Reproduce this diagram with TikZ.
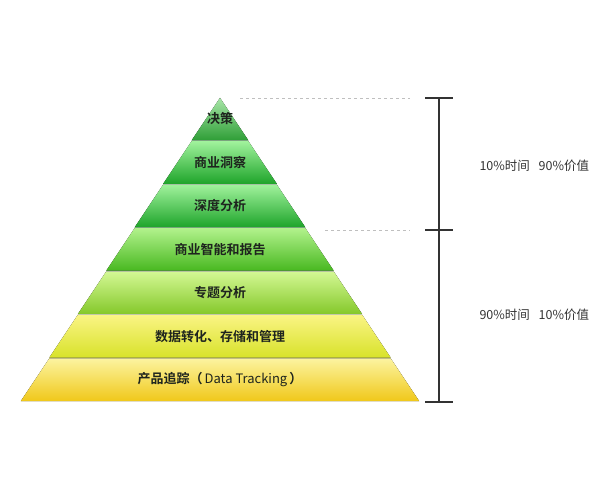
\documentclass[tikz,border=0pt]{standalone}
\usepackage{fontspec}
\newfontfamily\cjk[BoldFont={Noto Sans CJK SC Bold}]{Noto Sans CJK SC}
\definecolor{gEinsO}{HTML}{A8E6A8}
\definecolor{gEinsU}{HTML}{2E9E36}
\definecolor{gZweiO}{HTML}{A0F29C}
\definecolor{gZweiU}{HTML}{1EA42A}
\definecolor{gVierO}{HTML}{B2F28C}
\definecolor{gVierU}{HTML}{48B820}
\definecolor{gFuenfO}{HTML}{D4F894}
\definecolor{gFuenfU}{HTML}{84C82A}
\definecolor{gSechsO}{HTML}{FAF484}
\definecolor{gSechsU}{HTML}{D8E22A}
\definecolor{gSiebenO}{HTML}{FCF4A0}
\definecolor{gSiebenU}{HTML}{F0C81A}
\definecolor{textdunkel}{HTML}{1E241E}
\definecolor{linie}{HTML}{333333}
\tikzset{
	beschriftung/.style={font=\cjk\bfseries\fontsize{13}{13}\selectfont, text=textdunkel},
	wert/.style={font=\cjk\fontsize{12.5}{12.5}\selectfont, text=linie, anchor=west},
	klammer/.style={draw=linie, line width=1.1pt},
	hilfslinie/.style={draw=gray!50, dashed, line width=0.8pt}
}
\begin{document}
\begin{tikzpicture}[x=1pt,y=-1pt]
		\useasboundingbox (0,0) rectangle (600,480);
		% Pyramide
		\foreach \i/\oben/\unten/\name/\txt in {
			0/gEinsO/gEinsU/ebeneA/决策,
			1/gZweiO/gZweiU/ebeneB/商业洞察,
			2/gZweiO/gZweiU/ebeneC/深度分析,
			3/gVierO/gVierU/ebeneD/商业智能和报告,
			4/gFuenfO/gFuenfU/ebeneE/专题分析,
			5/gSechsO/gSechsU/ebeneF/数据转化、存储和管理,
			6/gSiebenO/gSiebenU/ebeneG/产品追踪（\,{\mdseries Data Tracking}\,）}{
			\pgfmathsetmacro{\ya}{97+43.43*\i}
			\pgfmathsetmacro{\yb}{\ya+43.43}
			\pgfmathsetmacro{\wa}{0.655*(\ya-97)}
			\pgfmathsetmacro{\wb}{0.655*(\yb-97)}
			\fill[top color=\oben, bottom color=\unten] (220-\wa,\ya+0.8) -- (220+\wa,\ya+0.8)
				-- (220+\wb,\yb) -- (220-\wb,\yb) -- cycle;
			\node[beschriftung] (\name) at (220,\ya+22) {\txt};
		}
		% Klammer
		\coordinate (kOben) at (439,98);
		\coordinate (kMitte) at (439,230);
		\coordinate (kUnten) at (439,402);
		\draw[klammer] (kOben) -- (kUnten);
		\draw[klammer] ([xshift=-14pt]kOben) -- ([xshift=14pt]kOben);
		\draw[klammer] ([xshift=-14pt]kMitte) -- ([xshift=14pt]kMitte);
		\draw[klammer] ([xshift=-14pt]kUnten) -- ([xshift=14pt]kUnten);
		% Hilfslinien
		\coordinate (sOben) at (240,98);
		\coordinate (sMitte) at (325,230);
		\draw[hilfslinie] (sOben) -- ([xshift=-29pt]kOben);
		\draw[hilfslinie] (sMitte) -- ([xshift=-29pt]kMitte);
		% Werte
		\node[wert] (wertOben) at (476,166) {10\%时间\hspace{0.7em}90\%价值};
		\node[wert] (wertUnten) at (476,315) {90\%时间\hspace{0.7em}10\%价值};
	\end{tikzpicture}
\end{document}
